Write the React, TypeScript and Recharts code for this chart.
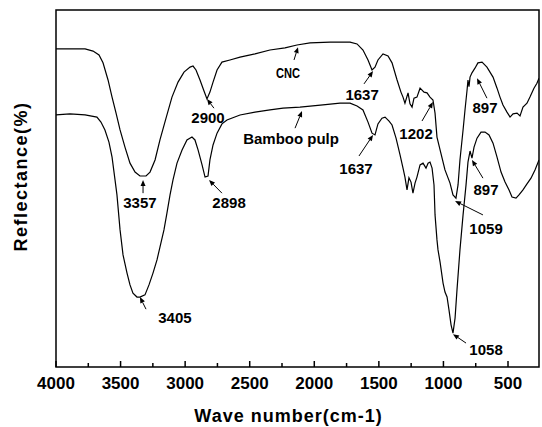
import React from "react";
import {
  LineChart,
  Line,
  XAxis,
  YAxis,
  ReferenceArea,
  ReferenceLine,
  ReferenceDot,
} from "recharts";

// FTIR spectra, wavenumber (cm-1) vs reflectance (arbitrary %)
const cncWave = [
  4000, 3892, 3775, 3713, 3667, 3636, 3597, 3566, 3535, 3504, 3466, 3427, 3388,
  3350, 3303, 3272, 3233, 3195, 3148, 3102, 3055, 3009, 2962, 2939, 2916, 2885,
  2854, 2831, 2808, 2784, 2753, 2715, 2653, 2575, 2459, 2343, 2227, 2134, 2033,
  1878, 1723, 1669, 1623, 1584, 1553, 1530, 1507, 1468, 1429, 1398, 1359, 1329,
  1313, 1298, 1274, 1259, 1243, 1228, 1205, 1181, 1150, 1127, 1104, 1081, 1065,
  1050, 1026, 988, 949, 926, 903, 887, 872, 848, 833, 817, 810, 802, 794, 779,
  756, 733, 701, 663, 616, 585, 562, 539, 508, 484, 461, 430, 407, 384, 353, 330,
  299, 276, 260,
];
const cncValue = [
  89.1, 89.1, 89.1, 88.5, 87.4, 85.2, 80.4, 75.6, 71.1, 66.4, 61.6, 57.1, 54.6,
  53.5, 53.5, 54.6, 58.0, 63.6, 69.7, 75.6, 79.8, 82.6, 84.0, 84.3, 83.2, 80.4,
  77.3, 75.1, 77.0, 79.8, 83.2, 85.4, 86.0, 86.8, 87.7, 88.8, 89.4, 90.2, 90.8,
  91.0, 91.0, 90.5, 88.8, 86.0, 83.2, 84.0, 86.0, 87.7, 87.1, 85.2, 80.4, 77.0,
  75.6, 73.9, 76.8, 73.7, 72.8, 75.3, 75.6, 78.1, 77.0, 76.8, 75.6, 74.8, 71.1,
  64.4, 60.8, 55.2, 51.5, 48.2, 47.3, 51.0, 58.0, 66.4, 72.0, 77.6, 80.4, 78.5,
  81.2, 82.4, 83.7, 85.2, 85.4, 84.0, 81.2, 78.1, 75.6, 73.4, 71.4, 70.0, 70.9,
  71.1, 70.3, 72.8, 73.9, 75.6, 78.1, 79.5, 80.9,
];

const pulpWave = [
  4000, 3892, 3775, 3683, 3652, 3621, 3590, 3566, 3543, 3528, 3504, 3481, 3450,
  3427, 3404, 3373, 3350, 3311, 3280, 3249, 3218, 3195, 3164, 3141, 3117, 3094,
  3063, 3024, 2986, 2947, 2924, 2900, 2869, 2846, 2823, 2808, 2784, 2753, 2715,
  2676, 2575, 2459, 2343, 2242, 2111, 1933, 1801, 1723, 1669, 1623, 1584, 1553,
  1530, 1507, 1476, 1452, 1421, 1398, 1367, 1336, 1313, 1298, 1282, 1267, 1251,
  1236, 1220, 1205, 1181, 1158, 1135, 1119, 1104, 1088, 1073, 1065, 1050, 1042,
  1026, 1003, 988, 972, 957, 941, 926, 910, 895, 872, 848, 825, 810, 794, 779,
  763, 740, 709, 678, 647, 616, 585, 554, 523, 492, 469, 438, 415, 384, 353, 322,
  291, 260,
];
const pulpValue = [
  70.6, 70.9, 70.6, 70.0, 68.6, 66.4, 63.0, 58.8, 52.4, 48.2, 38.4, 31.4, 26.3,
  23.0, 20.7, 19.6, 19.6, 20.2, 23.0, 26.3, 30.0, 33.6, 38.4, 43.1, 48.2, 52.4,
  57.1, 60.8, 63.6, 64.4, 63.6, 60.8, 56.6, 53.2, 53.5, 58.0, 62.2, 65.5, 68.1,
  69.2, 70.6, 71.4, 72.0, 72.5, 72.8, 73.4, 73.9, 73.9, 73.1, 72.0, 68.6, 65.5,
  65.0, 68.1, 69.7, 70.0, 68.9, 67.8, 64.1, 59.4, 55.7, 53.2, 49.6, 53.0, 51.8,
  48.7, 51.5, 53.2, 56.6, 57.1, 55.7, 57.1, 57.4, 55.7, 51.0, 42.6, 35.6, 32.8,
  29.4, 23.5, 21.0, 19.6, 16.0, 11.8, 9.5, 13.7, 21.6, 32.8, 42.6, 51.0, 57.4,
  60.5, 58.5, 61.6, 64.1, 65.8, 65.8, 65.0, 62.7, 58.8, 54.6, 51.8, 49.6, 47.6,
  47.3, 48.2, 49.6, 51.3, 52.9, 55.2, 58.0,
];

const xTicks = [
  4000, 3750, 3500, 3250, 3000, 2750, 2500, 2250, 2000, 1750, 1500, 1250, 1000,
  750, 500,
];

// peak labels: text, arrow tip, arrow tail, label centre (data coords)
const peakText = [
  "3357", "2898", "3405", "2900", "CNC", "Bamboo pulp", "1637", "1637", "1202",
  "897", "897", "1059", "1058",
];
const tipWave = [3326, 2815, 3350, 2831, 2126, 2095, 1545, 1545, 1081, 740, 779, 910, 926];
const tipValue = [52.4, 52.4, 19.6, 75.1, 89.6, 71.7, 82.9, 65.0, 74.2, 80.9, 58.0, 46.5, 9.2];
const tailWave = [3326, 2715, 3303, 2777, 2157, 2149, 1615, 1654, 1166, 663, 694, 694, 825];
const tailValue = [48.7, 48.7, 16.2, 72.5, 86.0, 66.9, 79.3, 59.1, 68.9, 75.3, 52.9, 42.6, 6.7];
const labelWave = [3350, 2660, 3079, 2823, 2204, 2180, 1630, 1677, 1212, 678, 670, 670, 670];
const labelValue = [46.2, 46.2, 14.0, 70.0, 82.4, 64.1, 76.2, 55.5, 65.5, 72.8, 49.6, 38.7, 5.0];

const cncData = cncWave.map((w, i) => ({ wave: w, value: cncValue[i] }));
const pulpData = pulpWave.map((w, i) => ({ wave: w, value: pulpValue[i] }));

const FONT = "'Liberation Sans', Arial, sans-serif";

const WaveTick = (props: any) => {
  const { x, y, payload } = props;
  const major = payload.value % 500 === 0;
  return (
    <g>
      <line x1={x} x2={x} y1={y} y2={y - (major ? 6 : 4)} stroke="#000" strokeWidth={1.5} />
      {major && (
        <text
          x={x}
          y={y + 22}
          textAnchor="middle"
          fontSize={17}
          fontWeight="bold"
          fontFamily={FONT}
          fill="#000"
        >
          {payload.value}
        </text>
      )}
    </g>
  );
};

const Arrow = (props: any) => {
  const { x1, y1, x2, y2 } = props;
  // x1,y1 = tip ; x2,y2 = tail
  const dx = x1 - x2;
  const dy = y1 - y2;
  const len = Math.sqrt(dx * dx + dy * dy) || 1;
  const ux = dx / len;
  const uy = dy / len;
  const hl = 6;
  const hw = 2.5;
  const bx = x1 - ux * hl;
  const by = y1 - uy * hl;
  return (
    <g>
      <line x1={x2} y1={y2} x2={bx} y2={by} stroke="#000" strokeWidth={1} />
      <polygon
        points={`${x1},${y1} ${bx - uy * hw},${by + ux * hw} ${bx + uy * hw},${by - ux * hw}`}
        fill="#000"
      />
    </g>
  );
};

export default function App() {
  return (
    <div style={{ position: "absolute", left: 0, top: 0, background: "#fff" }}>
      <LineChart
        width={542}
        height={427}
        margin={{ top: 10, right: 3, bottom: 0, left: 0 }}
      >
        <XAxis
          dataKey="wave"
          type="number"
          domain={[260, 4000]}
          reversed
          allowDataOverflow
          ticks={xTicks}
          interval={0}
          axisLine={false}
          tickLine={false}
          tickSize={0}
          tickMargin={0}
          height={60}
          tick={<WaveTick />}
          label={{
            content: (p: any) => (
              <text
                x={p.viewBox.x + p.viewBox.width / 2 - 9}
                y={422}
                textAnchor="middle"
                fontSize={18}
                fontWeight="bold"
                letterSpacing={1}
                fontFamily={FONT}
                fill="#000"
              >
                Wave number(cm-1)
              </text>
            ),
          }}
        />
        <YAxis
          type="number"
          domain={[0, 100]}
          allowDataOverflow
          width={56}
          tick={false}
          tickLine={false}
          axisLine={false}
          label={{
            content: (p: any) => {
              const cx = p.viewBox.x + 21;
              const cy = p.viewBox.y + p.viewBox.height / 2 - 12;
              return (
                <text
                  x={cx}
                  y={cy}
                  transform={`rotate(-90 ${cx} ${cy})`}
                  textAnchor="middle"
                  dominantBaseline="central"
                  fontSize={18}
                  fontWeight="bold"
                  letterSpacing={1.5}
                  fontFamily={FONT}
                  fill="#000"
                >
                  Reflectance(%)
                </text>
              );
            },
          }}
        />
        <ReferenceArea
          x1={4000}
          x2={260}
          y1={0}
          y2={100}
          fill="none"
          stroke="#000"
          strokeWidth={1.5}
          ifOverflow="visible"
        />
        <Line
          data={cncData}
          dataKey="value"
          type="linear"
          stroke="#000"
          strokeWidth={1.2}
          dot={false}
          isAnimationActive={false}
        />
        <Line
          data={pulpData}
          dataKey="value"
          type="linear"
          stroke="#000"
          strokeWidth={1.2}
          dot={false}
          isAnimationActive={false}
        />
        {peakText.map((t, i) => (
          <ReferenceLine
            key={`arrow-${i}`}
            segment={[
              { x: tipWave[i], y: tipValue[i] },
              { x: tailWave[i], y: tailValue[i] },
            ]}
            ifOverflow="visible"
            shape={<Arrow />}
          />
        ))}
        {peakText.map((t, i) => (
          <ReferenceDot
            key={`label-${i}`}
            x={labelWave[i]}
            y={labelValue[i]}
            r={0}
            ifOverflow="visible"
            shape={(p: any) => (
              <text
                x={p.cx}
                y={p.cy}
                textAnchor="middle"
                dominantBaseline="central"
                fontSize={15}
                fontWeight="bold"
                fontFamily={FONT}
                fill="#000"
                {...(t === "CNC" ? { textLength: 24, lengthAdjust: "spacingAndGlyphs" } : {})}
              >
                {t}
              </text>
            )}
          />
        ))}
      </LineChart>
    </div>
  );
}
